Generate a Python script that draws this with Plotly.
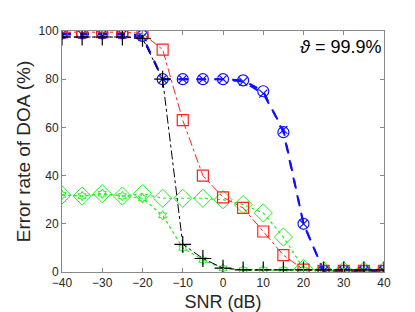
import plotly.graph_objects as go

snr = [-40, -35, -30, -25, -20, -15, -10, -5, 0, 5, 10, 15, 20, 25, 30, 35, 40]

blue_o = [99, 99, 99, 99, 98, 80, 80, 80, 80, 79.5, 75, 58, 20, 0.5, 0.5, 0.5, 0.5]
blue_x = [98.5, 98.5, 98.5, 98.5, 97.5, 80, 80, 80, 80, 79, 74, 59, 20, 0.5, 0.5, 0.5, 0.5]
red_sq = [99.5, 99.5, 99.5, 99.5, 99, 92.3, 63, 40, 31, 26.6, 16.8, 7, 1, 0.5, 0.5, 0.5, 0.5]
green_dia = [32, 31.5, 32.5, 31.5, 32.5, 30.6, 30.6, 30.6, 30, 28, 24.5, 14.5, 1.5, 0.5, 0.5, 0.5, 0.5]
green_hex = [32, 31.5, 32.5, 31.5, 30.6, 23.5, 10, 5, 1.5, 0.8, 0.8, 0.8, 0.8, 0.5, 0.5, 0.5, 0.5]
black_pl = [97.5, 97.5, 97.5, 97.5, 97, 80, 11.5, 5.6, 1.6, 0.9, 0.9, 0.9, 0.9, 0.9, 0.9, 0.9, 0.9]

fig = go.Figure()

fig.add_trace(go.Scatter(x=snr, y=green_hex, mode="lines+markers",
    line=dict(color="#22ee22", width=1.2, dash="dot"),
    marker=dict(symbol="hexagram-open", size=7, color="#22ee22", line=dict(width=1))))
fig.add_trace(go.Scatter(x=snr, y=green_dia, mode="lines+markers",
    line=dict(color="#22ee22", width=1.2, dash="dot"),
    marker=dict(symbol="diamond-open", size=14, color="#22ee22", line=dict(width=1))))
fig.add_trace(go.Scatter(x=snr, y=blue_x, mode="lines+markers",
    line=dict(color="#1010ff", width=2, dash="dash"),
    marker=dict(symbol="x-thin-open", size=8, color="#1010ff", line=dict(width=1.2, color="#1010ff"))))
fig.add_trace(go.Scatter(x=snr, y=blue_o, mode="lines+markers",
    line=dict(color="#1010ff", width=2, dash="dash"),
    marker=dict(symbol="circle-open", size=11, color="#1010ff", line=dict(width=1.2))))
fig.add_trace(go.Scatter(x=snr, y=red_sq, mode="lines+markers",
    line=dict(color="#ff2020", width=1, dash="dashdot"),
    marker=dict(symbol="square-open", size=11, color="#ff2020", line=dict(width=1.2))))
fig.add_trace(go.Scatter(x=snr, y=black_pl, mode="lines+markers",
    line=dict(color="black", width=1, dash="dashdot"),
    marker=dict(symbol="cross-thin-open", size=12, color="black", line=dict(width=1.2, color="black"))))

axis_common = dict(showline=True, linecolor="#888888", linewidth=1, mirror="ticks",
                   ticks="inside", ticklen=4, tickcolor="#888888", showgrid=False,
                   zeroline=False, tickfont=dict(size=12, color="#262626"))

fig.update_xaxes(range=[-40, 40], tickvals=[-40, -30, -20, -10, 0, 10, 20, 30, 40],
                 title=dict(text="SNR (dB)", font=dict(size=18, color="#262626"), standoff=5),
                 **axis_common)
fig.update_yaxes(range=[0, 100], tickvals=[0, 20, 40, 60, 80, 100],
                 title=dict(text="Error rate of DOA (%)", font=dict(size=19, color="#262626"), standoff=2),
                 **axis_common)

fig.add_annotation(x=1, y=0.935, xref="paper", yref="paper", xanchor="right", yanchor="middle",
                   text="<i>ϑ</i> = 99.9%", showarrow=False,
                   font=dict(size=18, color="black"), xshift=-1)

fig.update_layout(width=415, height=312, showlegend=False,
                  margin=dict(l=54, r=39, t=23, b=41),
                  paper_bgcolor="white", plot_bgcolor="white",
                  font=dict(family="Liberation Sans, Arial, sans-serif"))

fig.write_html("out.html")
